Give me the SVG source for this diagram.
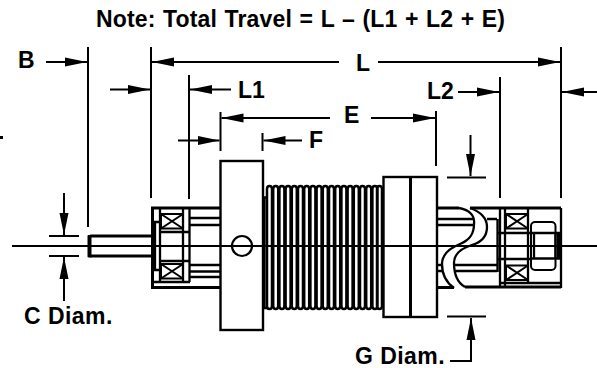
<svg xmlns="http://www.w3.org/2000/svg" width="597" height="368" viewBox="0 0 597 368">
<style>
text{font-family:"Liberation Sans",Arial,sans-serif;font-weight:700;font-size:23px;fill:#000}
.w{letter-spacing:.45px}
.l{fill:none;stroke:#000;stroke-width:2}
.m{fill:none;stroke:#000;stroke-width:2.300}
.h{fill:none;stroke:#000;stroke-width:3}
.r{fill:none;stroke:#000;stroke-width:2.400}
</style>
<defs>
<marker id="a" markerUnits="userSpaceOnUse" markerWidth="24" markerHeight="12" refX="22" refY="6" orient="auto-start-reverse"><path d="M0 1.500 L22 6 L0 10.500Z" fill="#000"/></marker>
<path id="rib" d="M0 306 Q0 309 2.500 309 Q5 309 5 306 V189 Q5 186 2.500 186 Q0 186 0 189 V306" fill="none" stroke="#000" stroke-width="2.500"/>
<g id="x"><rect x="0" y="0" width="22" height="14.500" fill="none" stroke="#000" stroke-width="2"/><path d="M0 0L22 14.500M22 0L0 14.500" stroke="#000" stroke-width="2"/></g>
</defs>
<g id="labels">
<text x="96" y="27" style="letter-spacing:.15px" word-spacing="1">Note: Total Travel = L – (L1 + L2 + E)</text>
<text x="18" y="68">B</text><text x="356" y="71">L</text><text x="238" y="98">L1</text><text x="427" y="99">L2</text>
<text x="344" y="123">E</text><text x="309" y="148">F</text><text class="w" x="24" y="324">C Diam.</text><text class="w" x="355" y="364">G Diam.</text>
</g>
<g id="connectors">
<path class="l" d="M88 47V227M151 47V198M189 75V199M220.500 112V151M262.500 133V151M436 111V166M500 77V198M561 47V198"/>
<path class="l" d="M46 62H87" marker-end="url(#a)"/>
<path class="l" d="M339 62H152" marker-end="url(#a)"/>
<path class="l" d="M378 62H560" marker-end="url(#a)"/>
<path class="l" d="M110 89.500H150" marker-end="url(#a)"/>
<path class="l" d="M231 89.500H190" marker-end="url(#a)"/>
<path class="l" d="M330 118H221.500" marker-end="url(#a)"/>
<path class="l" d="M371 118H435" marker-end="url(#a)"/>
<path class="l" d="M178 140.500H219.500" marker-end="url(#a)"/>
<path class="l" d="M302 140.500H263.500" marker-end="url(#a)"/>
<path class="l" d="M458 92H499" marker-end="url(#a)"/>
<path class="l" d="M597 92H562" marker-end="url(#a)"/>
<path class="l" d="M64 193V235" marker-end="url(#a)"/>
<path class="l" d="M64 301V257" marker-end="url(#a)"/>
<path class="l" d="M470.500 135V176" marker-end="url(#a)"/>
<path class="l" d="M450 361H471V318" marker-end="url(#a)"/>
<path class="l" d="M49 236H79M49 256H79M447 177.500H486M447 316.500H486"/>
<path d="M0 137.500H3" stroke="#000" stroke-width="3"/>
</g>
<g id="shaft">
<path class="h" d="M90 236H151M90 256H151"/>
<rect x="87.500" y="235" width="4" height="22.500" fill="#000" rx="1"/>
</g>
<g id="left-bearing">
<path class="h" d="M151 208H220M151 287.500H220M152.500 207V289"/>
<path class="m" d="M160 208V282M154 222H160M154 270H160M155 222V270M160 232H190M160 261H190M183 208V282M189.500 208V282M152 282H190"/>
<use href="#x" x="161" y="214"/><use href="#x" x="161" y="264"/>
<path class="m" d="M190 218H220M190 225H220M190 265H220M190 271.500H220M190 277H220"/>
</g>
<g id="flange">
<rect class="r" x="220.500" y="161" width="42.500" height="169"/>
<circle cx="242" cy="246" r="10" fill="#fff" stroke="#000" stroke-width="2.200"/>
</g>
<g id="bellows">
<path class="m" d="M264 197.500H268M264.500 197V308M264 308H268"/>
<use href="#rib" x="267"/><use href="#rib" x="273.200"/><use href="#rib" x="279.400"/><use href="#rib" x="285.600"/><use href="#rib" x="291.800"/><use href="#rib" x="298"/><use href="#rib" x="304.200"/><use href="#rib" x="310.400"/><use href="#rib" x="316.600"/><use href="#rib" x="322.800"/><use href="#rib" x="329"/><use href="#rib" x="335.200"/><use href="#rib" x="341.400"/><use href="#rib" x="347.600"/><use href="#rib" x="353.800"/><use href="#rib" x="360"/><use href="#rib" x="366.200"/><use href="#rib" x="372.400"/><use href="#rib" x="377"/>
</g>
<g id="piston">
<rect x="383.500" y="177" width="53.500" height="140" fill="#fff" stroke="#000" stroke-width="2.400"/>
<path d="M410.500 177V317" stroke="#000" stroke-width="3"/>
</g>
<g id="right-bearing">
<path class="m" d="M437 219H474M437 225H474M437 265H442M437 271H442M487 219H497M454 265H497M454 271H497"/>
<path class="h" d="M437 208H459M470 208H561M465 287H561M437 287.500H454"/>
<path class="m" d="M459 208C470 210 475 216 474 224C474 234 470 240 460 244C450 248 442 254 442 264C442 276 447 283 454 288"/>
<path class="m" d="M470 208C481 212 487 218 487 227C487 236 482 242 472 245C462 248 454 253 454 263C454 275 458 283 465 287"/>
<path class="m" d="M497.500 219V272M561 208V288M500 208V286M505 208V286M528 208V284M500 283H561M498 233H530M498 259H530"/>
<use href="#x" x="506" y="214"/><use href="#x" x="506" y="265.500"/>
<rect x="531" y="222" width="24.500" height="48" rx="4" fill="none" stroke="#000" stroke-width="2"/>
<path class="m" d="M530 233H560M530 258.500H560M534 233V259M555.500 233V259"/>
<rect x="557" y="233" width="4" height="26" fill="#000"/>
</g>
<g id="centerline"><path d="M12 246H597" stroke="#000" stroke-width="1.800" fill="none"/></g>
</svg>
